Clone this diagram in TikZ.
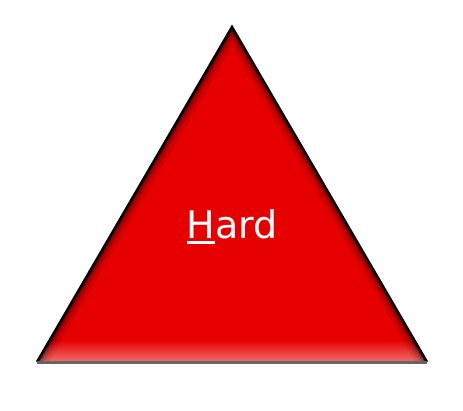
\documentclass[tikz,border=0pt]{standalone}
\usepackage{fontspec}
\setmainfont{DejaVu Sans}
\definecolor{hardred}{RGB}{230,0,0}
\definecolor{hardpink}{RGB}{240,110,110}
\newcommand{\hotkey}[1]{\setbox0\hbox{#1}\rlap{\rule[-0.13em]{\wd0}{0.07em}}#1}

\begin{document}
\begin{tikzpicture}[x=1pt, y=1pt, every node/.style={font=\fontsize{38}{40}\selectfont}]
	\useasboundingbox (0,0) rectangle (463,410);
	\coordinate (apex) at (232,383);
	\coordinate (left) at (37,48);
	\coordinate (right) at (427,48);
	\fill[hardred] (apex) -- (left) -- (right) -- cycle;
	% bevel
	\begin{scope}
		\clip (apex) -- (left) -- (right) -- cycle;
		\fill[bottom color=hardpink, top color=hardred] (left) rectangle ([yshift=22pt]right);
		\foreach \w/\o in {20/0.08, 13/0.13, 8/0.2, 4/0.3}
			\draw[line width=\w pt, black, opacity=\o] (left) -- (apex) -- (right);
	\end{scope}
	\draw[line width=2.5pt, black, line join=miter] (left) -- (apex) -- (right);
	\draw[line width=3pt, black!60] (left) -- (right);
	\node[text=white] (label) at (232,183) {\hotkey{H}ard};
\end{tikzpicture}
\end{document}
